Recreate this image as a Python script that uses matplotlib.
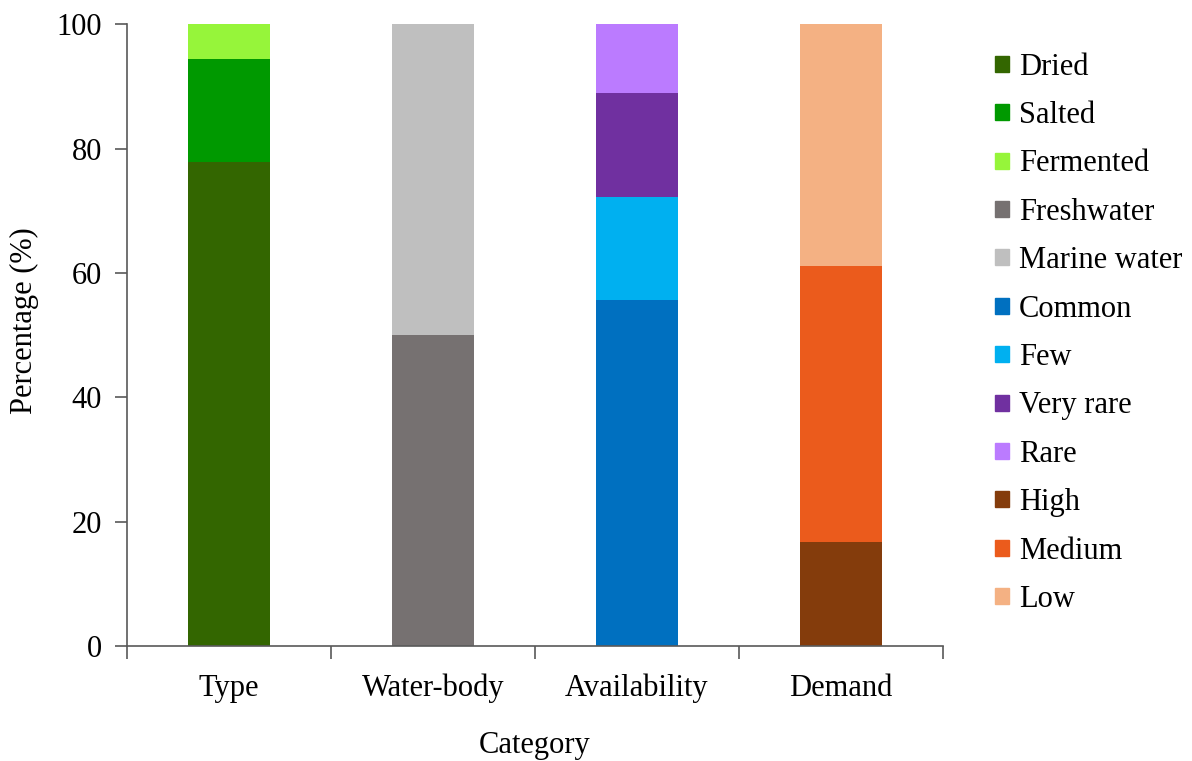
import matplotlib.pyplot as plt
import numpy as np
from matplotlib.patches import Patch

plt.rcParams['font.family'] = ['Liberation Serif', 'DejaVu Serif']

categories = ["Type", "Water-body", "Availability", "Demand"]

# segments per category, bottom to top (percent)
type_labels = ["Dried", "Salted", "Fermented"]
type_values = [77.8, 16.7, 5.5]
water_labels = ["Freshwater", "Marine water"]
water_values = [50.0, 50.0]
avail_labels = ["Common", "Few", "Very rare", "Rare"]
avail_values = [55.6, 16.7, 16.6, 11.1]
demand_labels = ["High", "Medium", "Low"]
demand_values = [16.7, 44.4, 38.9]

colors = {
    "Dried": "#336600", "Salted": "#009900", "Fermented": "#96F53A",
    "Freshwater": "#767171", "Marine water": "#BFBFBF",
    "Common": "#0070C0", "Few": "#00B0F0", "Very rare": "#7030A0", "Rare": "#BB7BFF",
    "High": "#843C0C", "Medium": "#EB5B1C", "Low": "#F4B183",
}

groups = [(type_labels, type_values), (water_labels, water_values),
          (avail_labels, avail_values), (demand_labels, demand_values)]

fig = plt.figure(figsize=(11.92, 7.61), dpi=100)
ax = fig.add_axes([0.1065, 0.151, 0.6846, 0.817])

x = np.arange(len(categories))
for i, (labels, values) in enumerate(groups):
    bottom = 0
    for lab, v in zip(labels, values):
        ax.bar(x[i], v, width=0.4, bottom=bottom, color=colors[lab])
        bottom += v

ax.set_xlim(-0.5, len(categories) - 0.5)
ax.set_ylim(0, 100)
ax.set_yticks(range(0, 101, 20))
ax.set_xticks(x)
ax.set_xticklabels(categories)
ax.set_xticks(np.arange(-0.5, len(categories), 1), minor=True)
ax.tick_params(axis='x', which='major', length=0, pad=20, labelsize=22)
ax.tick_params(axis='x', which='minor', length=9, width=1.2, color="#595959")
ax.tick_params(axis='y', length=9, width=1.2, color="#595959", labelsize=22, pad=9)

for side in ["top", "right"]:
    ax.spines[side].set_visible(False)
for side in ["left", "bottom"]:
    ax.spines[side].set_color("#595959")
    ax.spines[side].set_linewidth(1.2)

ax.set_xlabel("Category", fontsize=22, labelpad=20)
ax.set_ylabel("Percentage (%)", fontsize=22)
ax.yaxis.set_label_coords(-0.108, 0.524)

handles = []
for labels, values in groups:
    for lab in labels:
        handles.append(Patch(color=colors[lab], label=lab))
fig.legend(handles=handles, loc="upper left", bbox_to_anchor=(0.812, 0.967),
           frameon=False, fontsize=22, handlelength=0.43, handleheight=0.43,
           handletextpad=0.33, labelspacing=0.635)

plt.savefig("out.png", dpi=100)
